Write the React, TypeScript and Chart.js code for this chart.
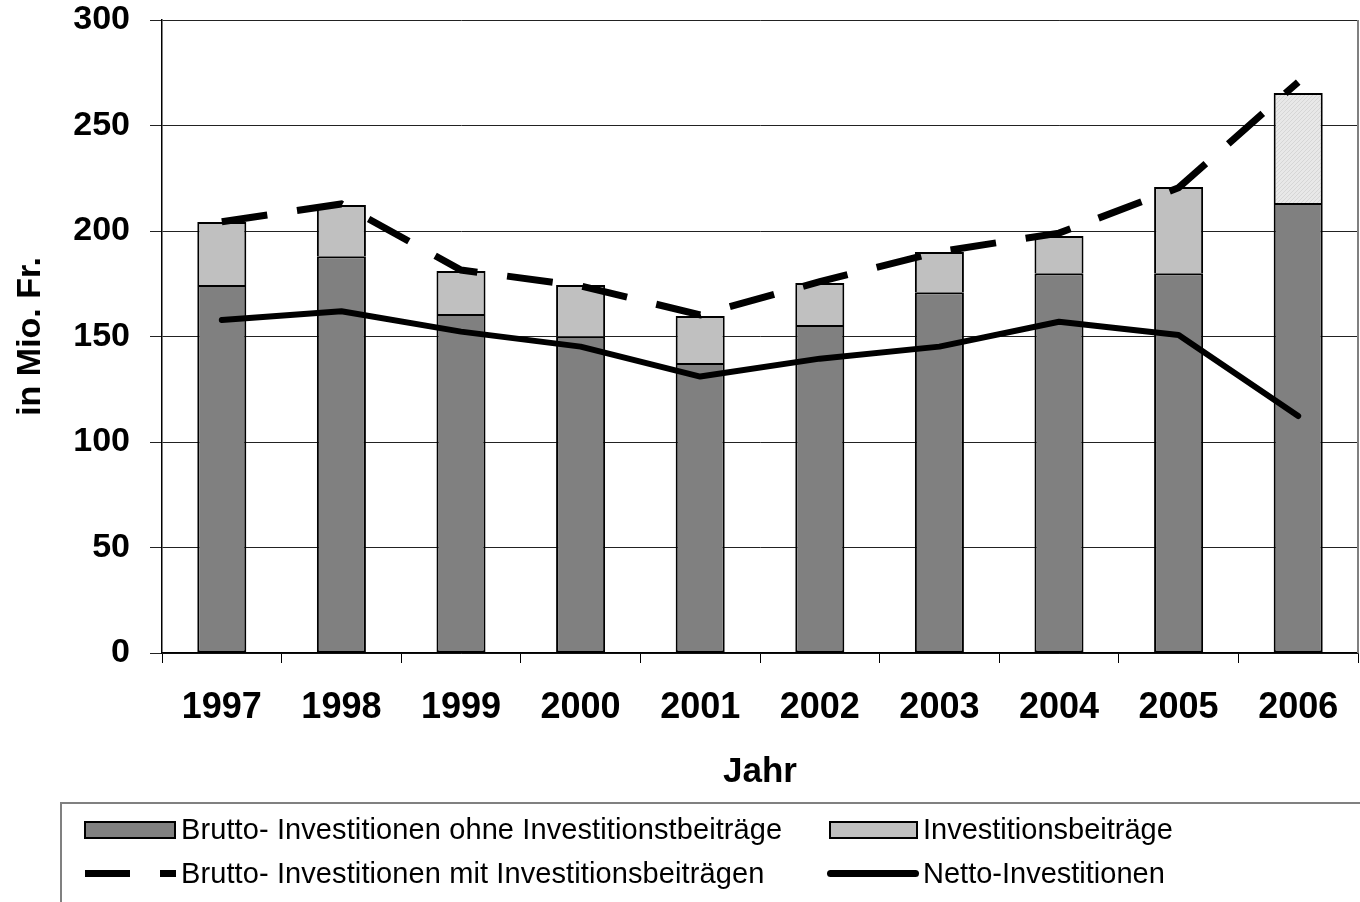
import React, { useEffect, useRef } from 'react';
import { Chart, registerables } from 'chart.js';
Chart.register(...registerables);

const years = ['1997', '1998', '1999', '2000', '2001', '2002', '2003', '2004', '2005', '2006'];
const bruttoOhne = [174.4, 188, 160.7, 150, 137.4, 155.5, 171, 180, 180, 213.3];
const beitraege = [29.9, 24.3, 20.3, 24.4, 22.3, 19.9, 19, 17.6, 40.9, 52.1];
const bruttoMit = [204.4, 212.8, 181.5, 174, 160.2, 176, 190.2, 199, 220.5, 270.6];
const netto = [157.8, 162, 152.3, 145.2, 131, 139.5, 145.2, 157, 150.7, 112.3];
const yTicks = [0, 50, 100, 150, 200, 250, 300];

const legendLabels = [
  'Brutto- Investitionen ohne Investitionstbeiträge',
  'Investitionsbeiträge',
  'Brutto- Investitionen mit Investitionsbeiträgen',
  'Netto-Investitionen',
];

const FONT = '"Liberation Sans", Arial, sans-serif';

function makePattern(): CanvasPattern | string {
  const c = document.createElement('canvas');
  c.width = 4;
  c.height = 4;
  const ctx = c.getContext('2d');
  if (!ctx) return '#e3e3e3';
  ctx.fillStyle = '#e8e8e8';
  ctx.fillRect(0, 0, 4, 4);
  ctx.fillStyle = '#d6d6d6';
  for (let i = 0; i < 4; i++) ctx.fillRect(i, 3 - i, 1, 1);
  return ctx.createPattern(c, 'repeat') || '#e3e3e3';
}

const borderPlugin = {
  id: 'rightBorder',
  afterDraw(chart: any) {
    const { ctx, chartArea } = chart;
    ctx.save();
    ctx.strokeStyle = '#808080';
    ctx.lineWidth = 2;
    ctx.beginPath();
    ctx.moveTo(chartArea.right, chartArea.top);
    ctx.lineTo(chartArea.right, chartArea.bottom);
    ctx.stroke();
    ctx.restore();
  },
};

export default function App() {
  const ref = useRef<HTMLCanvasElement>(null);

  useEffect(() => {
    if (!ref.current) return;
    const pattern = makePattern();
    const lightColors = years.map((_, i) => (i === years.length - 1 ? pattern : '#c0c0c0'));
    const chart = new Chart(ref.current, {
      type: 'bar',
      data: {
        labels: years,
        datasets: [
          {
            type: 'line',
            label: legendLabels[2],
            data: bruttoMit,
            borderColor: '#000',
            borderWidth: 7,
            borderDash: [46, 30],
            pointRadius: 0,
            fill: false,
            tension: 0,
            stack: 'l1',
            order: 0,
          } as any,
          {
            type: 'line',
            label: legendLabels[3],
            data: netto,
            borderColor: '#000',
            borderWidth: 6,
            borderCapStyle: 'round',
            borderJoinStyle: 'round',
            pointRadius: 0,
            fill: false,
            tension: 0,
            stack: 'l2',
            order: 0,
          } as any,
          {
            type: 'bar',
            label: legendLabels[0],
            data: bruttoOhne,
            backgroundColor: '#808080',
            borderColor: '#000',
            borderWidth: 2,
            borderSkipped: false,
            categoryPercentage: 1,
            barPercentage: 0.41,
            stack: 'bars',
            order: 1,
          } as any,
          {
            type: 'bar',
            label: legendLabels[1],
            data: beitraege,
            backgroundColor: lightColors,
            borderColor: '#000',
            borderWidth: 2,
            borderSkipped: 'start',
            categoryPercentage: 1,
            barPercentage: 0.41,
            stack: 'bars',
            order: 1,
          } as any,
        ],
      },
      options: {
        responsive: false,
        animation: false,
        devicePixelRatio: 1,
        layout: { padding: { top: 20, right: 2, bottom: 102, left: 0 } },
        plugins: {
          legend: { display: false },
          tooltip: { enabled: false },
        },
        scales: {
          x: {
            stacked: true,
            grid: {
              offset: true,
              drawOnChartArea: false,
              drawTicks: true,
              tickLength: 10,
              color: '#000',
              lineWidth: 1,
            },
            border: { color: '#000', width: 1.5 },
            ticks: {
              color: '#000',
              font: { family: FONT, size: 36, weight: 'bold' },
              padding: 23,
              maxRotation: 0,
            },
            title: {
              display: true,
              text: 'Jahr',
              color: '#000',
              font: { family: FONT, size: 35, weight: 'bold' },
              padding: { top: 0, bottom: 7 },
            },
            afterFit: (s: any) => {
              s.height = 147;
              s.paddingLeft = 0;
              s.paddingRight = 0;
            },
          },
          y: {
            stacked: true,
            min: 0,
            max: 300,
            afterBuildTicks: (s: any) => {
              s.ticks = yTicks.map((v) => ({ value: v }));
            },
            grid: { color: '#222', lineWidth: 1, tickLength: 12 },
            border: { color: '#000', width: 1.5 },
            ticks: {
              color: '#000',
              font: { family: FONT, size: 34, weight: 'bold' },
              padding: 20,
            },
            title: {
              display: true,
              text: 'in Mio. Fr.',
              color: '#000',
              font: { family: FONT, size: 34, weight: 'bold' },
              padding: { top: 10, bottom: 0 },
            },
            afterFit: (s: any) => {
              s.width = 162;
              s.paddingTop = 0;
              s.paddingBottom = 0;
            },
          },
        },
      } as any,
      plugins: [borderPlugin],
    });
    return () => chart.destroy();
  }, []);

  const textStyle: React.CSSProperties = {
    position: 'absolute',
    fontFamily: FONT,
    fontSize: 29,
    color: '#000',
    lineHeight: '30px',
    whiteSpace: 'nowrap',
  };

  return (
    <div style={{ position: 'absolute', left: 0, top: 0, width: 1360, height: 902, overflow: 'hidden', background: '#fff' }}>
      <canvas ref={ref} width={1360} height={902} style={{ position: 'absolute', left: 0, top: 0 }} />
      <div
        style={{
          position: 'absolute',
          left: 60,
          top: 802,
          width: 1320,
          height: 120,
          border: '2px solid #808080',
          boxSizing: 'border-box',
        }}
      />
      {/* row 1 */}
      <div style={{ position: 'absolute', left: 84, top: 821, width: 92, height: 18, background: '#808080', border: '2px solid #000', boxSizing: 'border-box' }} />
      <div style={{ ...textStyle, left: 181, top: 814, letterSpacing: 0.1 }}>{legendLabels[0]}</div>
      <div style={{ position: 'absolute', left: 829, top: 821, width: 89, height: 18, background: '#c0c0c0', border: '2px solid #000', boxSizing: 'border-box' }} />
      <div style={{ ...textStyle, left: 923, top: 814 }}>{legendLabels[1]}</div>
      {/* row 2 */}
      <div style={{ position: 'absolute', left: 85, top: 870, width: 45, height: 7, background: '#000' }} />
      <div style={{ position: 'absolute', left: 160, top: 870, width: 16, height: 7, background: '#000' }} />
      <div style={{ ...textStyle, left: 181, top: 858, letterSpacing: 0.1 }}>{legendLabels[2]}</div>
      <div style={{ position: 'absolute', left: 827, top: 870, width: 92, height: 7, background: '#000', borderRadius: 4 }} />
      <div style={{ ...textStyle, left: 923, top: 858 }}>{legendLabels[3]}</div>
    </div>
  );
}
